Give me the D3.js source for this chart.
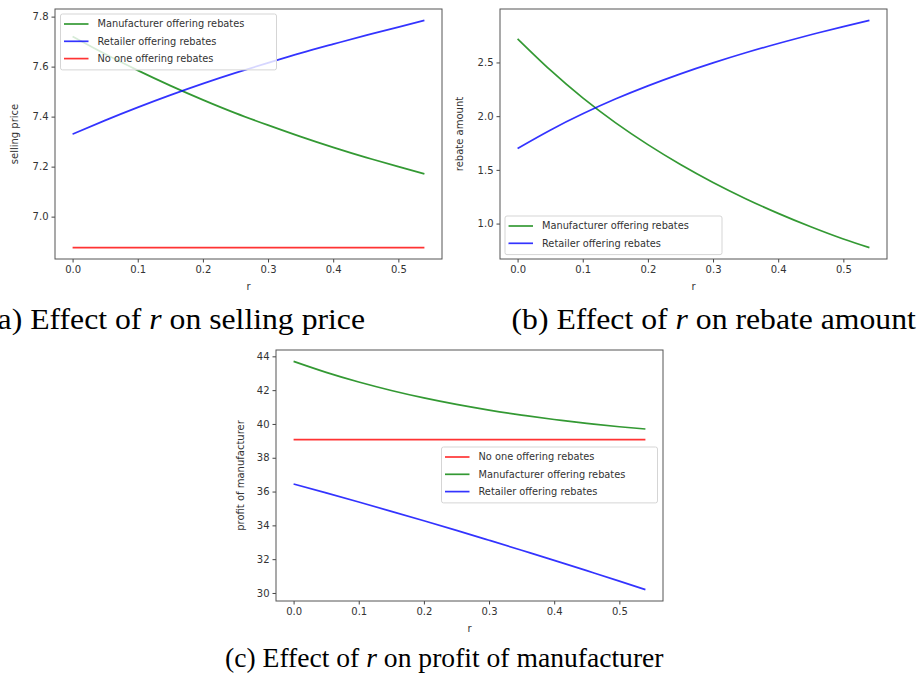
<!DOCTYPE html>
<html>
<head>
<meta charset="utf-8">
<script src="https://cdn.jsdelivr.net/npm/d3@7"></script>
<style>
  body { margin: 0; background: #fff; }
  svg { display: block; }
  .tick text { font-family: "DejaVu Sans", sans-serif; font-size: 10px; fill: #333; }
  .tick line { stroke: #444; }
  .domain { display: none; }
</style>
</head>
<body>
<div id="chart"></div>
<script>
// r values shared by all three panels
const rValues = [0, 0.05, 0.1, 0.15, 0.2, 0.25, 0.3, 0.35, 0.4, 0.45, 0.5, 0.54];

// (a) selling price
const priceManufacturer = [7.72, 7.65, 7.585, 7.524, 7.467, 7.414, 7.366, 7.32, 7.277, 7.237, 7.2, 7.171];
const priceRetailer = [7.33, 7.385, 7.437, 7.486, 7.532, 7.575, 7.615, 7.654, 7.69, 7.725, 7.758, 7.785];
const priceNoOne = [6.876, 6.876, 6.876, 6.876, 6.876, 6.876, 6.876, 6.876, 6.876, 6.876, 6.876, 6.876];

// (b) rebate amount
const rebateManufacturer = [2.72, 2.43, 2.17, 1.94, 1.735, 1.55, 1.383, 1.232, 1.095, 0.97, 0.856, 0.776];
const rebateRetailer = [1.70, 1.87, 2.022, 2.159, 2.282, 2.394, 2.496, 2.59, 2.677, 2.758, 2.834, 2.892];

// (c) profit of manufacturer
const profitNoOne = [39.07, 39.07, 39.07, 39.07, 39.07, 39.07, 39.07, 39.07, 39.07, 39.07, 39.07, 39.07];
const profitManufacturer = [43.7, 43.05, 42.48, 41.98, 41.54, 41.155, 40.82, 40.525, 40.265, 40.035, 39.835, 39.70];
const profitRetailer = [36.45, 35.92, 35.38, 34.83, 34.27, 33.7, 33.12, 32.53, 31.93, 31.32, 30.7, 30.2];

const xTicks = [0, 0.1, 0.2, 0.3, 0.4, 0.5];
const priceTicks = [7.0, 7.2, 7.4, 7.6, 7.8];
const rebateTicks = [1.0, 1.5, 2.0, 2.5];
const profitTicks = [30, 32, 34, 36, 38, 40, 42, 44];

const labelManufacturer = "Manufacturer offering rebates";
const labelRetailer = "Retailer offering rebates";
const labelNoOne = "No one offering rebates";

const colours = { m: "green", r: "blue", n: "red" };

const svg = d3.select("#chart").append("svg")
  .attr("width", 922)
  .attr("height", 679);

// pad extent by 5% like matplotlib autoscale
function padded(values) {
  const ext = d3.extent(values);
  const m = (ext[1] - ext[0]) * 0.05;
  return [ext[0] - m, ext[1] + m];
}

function drawPanel(p) {
  const x = d3.scaleLinear().domain(padded(rValues)).range([p.left, p.right]);
  const y = d3.scaleLinear()
    .domain(padded(p.series.flatMap(s => s.values)))
    .range([p.bottom, p.top]);

  const g = svg.append("g");

  g.append("g")
    .attr("transform", `translate(0, ${p.bottom})`)
    .call(d3.axisBottom(x).tickValues(xTicks).tickFormat(d3.format(".1f")).tickSize(3.5).tickPadding(3));

  g.append("g")
    .attr("transform", `translate(${p.left}, 0)`)
    .call(d3.axisLeft(y).tickValues(p.yTicks).tickFormat(p.yFormat).tickSize(3.5).tickPadding(3));

  const line = d3.line()
    .x((d, i) => x(rValues[i]))
    .y(d => y(d))
    .curve(d3.curveNatural);

  g.selectAll(".series")
    .data(p.series)
    .enter()
    .append("path")
    .attr("class", "series")
    .attr("fill", "none")
    .attr("stroke", d => d.colour)
    .attr("stroke-opacity", 0.8)
    .attr("stroke-width", 1.7)
    .attr("d", d => line(d.values));

  // frame
  g.append("rect")
    .attr("x", p.left).attr("y", p.top)
    .attr("width", p.right - p.left).attr("height", p.bottom - p.top)
    .attr("fill", "none").attr("stroke", "#555").attr("stroke-width", 1);

  // axis labels
  g.append("text")
    .attr("x", (p.left + p.right) / 2).attr("y", p.bottom + 31)
    .attr("text-anchor", "middle")
    .style("font-family", "DejaVu Sans").style("font-size", "10px").style("fill", "#333")
    .text("r");

  g.append("text")
    .attr("transform", `translate(${p.yLabelX}, ${(p.top + p.bottom) / 2}) rotate(-90)`)
    .attr("text-anchor", "middle")
    .style("font-family", "DejaVu Sans").style("font-size", "10px").style("fill", "#333")
    .text(p.yLabel);

  // legend
  const items = p.legendOrder.map(k => p.series.find(s => s.key === k));
  const lg = g.append("g").attr("transform", `translate(${p.legend.x}, ${p.legend.y})`);
  lg.append("rect")
    .attr("width", p.legend.w).attr("height", items.length * 17.3 + 4)
    .attr("rx", 2)
    .attr("fill", "#fff").attr("fill-opacity", 0.8)
    .attr("stroke", "#d5d5d5").attr("stroke-width", 1);
  const row = lg.selectAll(".row").data(items).enter().append("g")
    .attr("transform", (d, i) => `translate(0, ${10 + i * 17.3})`);
  row.append("line")
    .attr("x1", 3.5).attr("x2", 28).attr("y1", 0).attr("y2", 0)
    .attr("stroke", d => d.colour).attr("stroke-opacity", 0.8).attr("stroke-width", 1.7);
  row.append("text")
    .attr("x", 37).attr("dy", "0.35em")
    .style("font-family", "DejaVu Sans").style("font-size", "9.8px").style("fill", "#333")
    .text(d => d.label);

  // caption (the scanned captions are a bit stretched sideways)
  const cap = svg.append("text")
    .attr("transform", `translate(${p.caption.x}, ${p.caption.y}) scale(${p.caption.sx}, 1)`)
    .attr("text-anchor", p.caption.anchor)
    .style("font-family", "'Liberation Serif', 'Times New Roman', serif")
    .style("font-size", p.caption.size + "px").style("fill", "#000");
  cap.append("tspan").text(p.caption.pre);
  cap.append("tspan").style("font-style", "italic").text("r");
  cap.append("tspan").text(p.caption.post);
}

drawPanel({
  left: 55, right: 442, top: 9, bottom: 259,
  yTicks: priceTicks, yFormat: d3.format(".1f"),
  yLabel: "selling price", yLabelX: 18,
  series: [
    { key: "m", label: labelManufacturer, colour: colours.m, values: priceManufacturer },
    { key: "r", label: labelRetailer, colour: colours.r, values: priceRetailer },
    { key: "n", label: labelNoOne, colour: colours.n, values: priceNoOne }
  ],
  legendOrder: ["m", "r", "n"],
  legend: { x: 60.5, y: 14, w: 216 },
  caption: { x: 365, y: 329, anchor: "end", size: 30, sx: 1.057, pre: "(a) Effect of ", post: " on selling price" }
});

drawPanel({
  left: 500, right: 887, top: 9, bottom: 259,
  yTicks: rebateTicks, yFormat: d3.format(".1f"),
  yLabel: "rebate amount", yLabelX: 463,
  series: [
    { key: "m", label: labelManufacturer, colour: colours.m, values: rebateManufacturer },
    { key: "r", label: labelRetailer, colour: colours.r, values: rebateRetailer }
  ],
  legendOrder: ["m", "r"],
  legend: { x: 505, y: 216, w: 217 },
  caption: { x: 511.5, y: 329, anchor: "start", size: 30, sx: 1.057, pre: "(b) Effect of ", post: " on rebate amount" }
});

drawPanel({
  left: 276, right: 663, top: 350, bottom: 601,
  yTicks: profitTicks, yFormat: d3.format("d"),
  yLabel: "profit of manufacturer", yLabelX: 244,
  series: [
    { key: "n", label: labelNoOne, colour: colours.n, values: profitNoOne },
    { key: "m", label: labelManufacturer, colour: colours.m, values: profitManufacturer },
    { key: "r", label: labelRetailer, colour: colours.r, values: profitRetailer }
  ],
  legendOrder: ["n", "m", "r"],
  legend: { x: 441.5, y: 447, w: 216 },
  caption: { x: 225, y: 667, anchor: "start", size: 27.6, sx: 1, pre: "(c) Effect of ", post: " on profit of manufacturer" }
});
</script>
</body>
</html>
